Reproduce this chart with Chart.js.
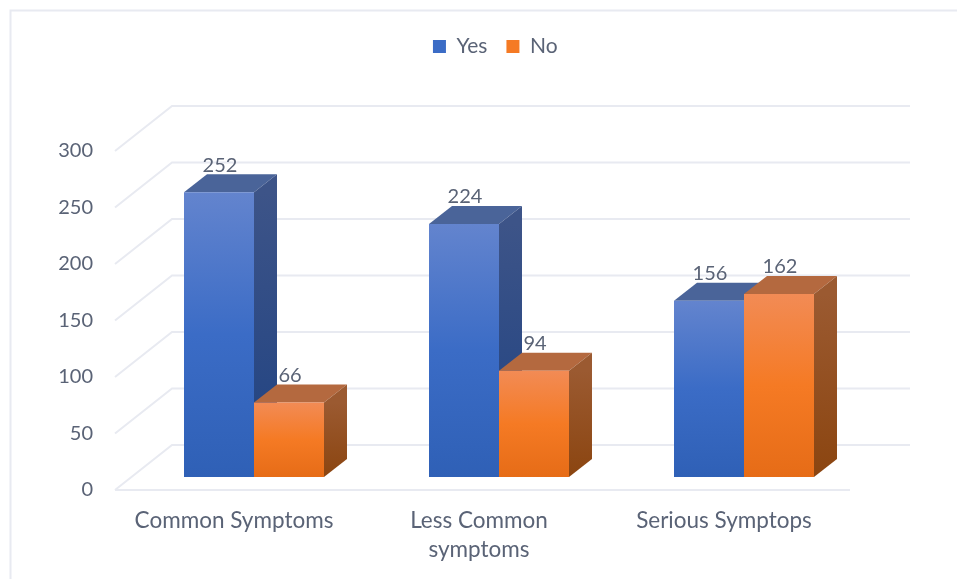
<!DOCTYPE html>
<html>
<head>
<meta charset="utf-8">
<title>Symptoms</title>
<script src="https://cdn.jsdelivr.net/npm/chart.js@4/dist/chart.umd.min.js"></script>
<style>
  html, body { margin: 0; padding: 0; background: #fff; }
  canvas { display: block; }
</style>
</head>
<body>
<canvas id="grafico" width="957" height="579"></canvas>
<script>
const categories = ['Common Symptoms', ['Less Common', 'symptoms'], 'Serious Symptops'];
const yesValues = [252, 224, 156];
const noValues = [66, 94, 162];
const yTicks = [0, 50, 100, 150, 200, 250, 300];

const textColor = '#5a6376';
const gridColor = '#e8eaf1';
const fontName = "Lato, 'Open Sans', sans-serif";

// depth of a bar, and of the floor behind the axis line
const barDepth = { x: 23, y: -18 };
const wallBack = { x: 43.5, y: -32 };
const wallFront = { x: -16.5, y: 13 };

const yesStyle = {
    stops: ['#6384ce', '#3b6cc6', '#2f60b6'],
    top: '#4a6499',
    side: ['#3d5488', '#1f4282']
};
const noStyle = {
    stops: ['#f28b55', '#f57a24', '#e66c17'],
    top: '#b4693f',
    side: ['#9b5a31', '#8b4510']
};

function verticalGradient(ctx, yTop, yBottom, colors) {
    const g = ctx.createLinearGradient(0, yTop, 0, yBottom);
    colors.forEach((c, i) => g.addColorStop(i / (colors.length - 1), c));
    return g;
}

function frontFace(style) {
    return (context) => {
        const chart = context.chart;
        const y = chart.scales.y;
        const top = y.getPixelForValue(context.parsed.y);
        const bottom = y.getPixelForValue(0);
        // the scale has no size yet on the first reset
        if (!Number.isFinite(top) || !Number.isFinite(bottom)) {
            return style.stops[1];
        }
        return verticalGradient(chart.ctx, top, bottom, style.stops);
    };
}

const frame = {
    id: 'frame',
    beforeDraw(chart) {
        const ctx = chart.ctx;
        ctx.save();
        ctx.strokeStyle = gridColor;
        ctx.lineWidth = 2;
        ctx.beginPath();
        ctx.moveTo(10.5, 579);
        ctx.lineTo(10.5, 10.5);
        ctx.lineTo(957, 10.5);
        ctx.stroke();
        ctx.restore();
    }
};

const walls = {
    id: 'walls',
    beforeDatasetsDraw(chart) {
        const ctx = chart.ctx;
        const area = chart.chartArea;
        const y = chart.scales.y;
        ctx.save();
        ctx.strokeStyle = gridColor;
        ctx.lineWidth = 2;
        yTicks.forEach((tick) => {
            const p = y.getPixelForValue(tick);
            ctx.beginPath();
            ctx.moveTo(area.left + wallFront.x, p + wallFront.y);
            ctx.lineTo(area.left + wallFront.x + 57, p + wallBack.y);
            ctx.lineTo(area.right + wallBack.x, p + wallBack.y);
            ctx.stroke();
        });
        const floor = y.getPixelForValue(0) + wallFront.y;
        ctx.beginPath();
        ctx.moveTo(area.left + wallFront.x, floor);
        ctx.lineTo(area.right + wallFront.x, floor);
        ctx.stroke();
        ctx.restore();
    }
};

// top and side of every bar go down first, the library paints the fronts over them
const barFaces = {
    id: 'barFaces',
    beforeDatasetsDraw(chart) {
        const ctx = chart.ctx;
        [yesStyle, noStyle].forEach((style, d) => {
            chart.getDatasetMeta(d).data.forEach((bar) => {
                const { x, y, base, width } = bar.getProps(['x', 'y', 'base', 'width'], true);
                const r = x + width / 2;
                const l = x - width / 2;
                ctx.fillStyle = style.top;
                ctx.beginPath();
                ctx.moveTo(l, y);
                ctx.lineTo(r, y);
                ctx.lineTo(r + barDepth.x, y + barDepth.y);
                ctx.lineTo(l + barDepth.x, y + barDepth.y);
                ctx.closePath();
                ctx.fill();
                ctx.fillStyle = verticalGradient(ctx, y, base, style.side);
                ctx.beginPath();
                ctx.moveTo(r, y);
                ctx.lineTo(r + barDepth.x, y + barDepth.y);
                ctx.lineTo(r + barDepth.x, base + barDepth.y);
                ctx.lineTo(r, base);
                ctx.closePath();
                ctx.fill();
            });
        });
    }
};

const barValues = {
    id: 'barValues',
    afterDatasetsDraw(chart) {
        const ctx = chart.ctx;
        ctx.save();
        ctx.fillStyle = textColor;
        ctx.font = '20px ' + fontName;
        ctx.textAlign = 'center';
        ctx.textBaseline = 'middle';
        chart.data.datasets.forEach((ds, d) => {
            chart.getDatasetMeta(d).data.forEach((bar, i) => {
                ctx.fillText(ds.data[i], bar.x + 1, bar.y - 27);
            });
        });
        ctx.restore();
    }
};

// legend sits off centre above the plot
const legendPlace = {
    id: 'legendPlace',
    afterLayout(chart) {
        const legend = chart.legend;
        legend.left += 62;
        legend.right += 62;
        legend.top = 17;
    }
};

new Chart(document.getElementById('grafico'), {
    type: 'bar',
    data: {
        labels: categories,
        datasets: [
            { label: 'Yes', data: yesValues, backgroundColor: frontFace(yesStyle) },
            { label: 'No', data: noValues, backgroundColor: frontFace(noStyle) }
        ]
    },
    options: {
        responsive: false,
        animation: false,
        barPercentage: 1,
        categoryPercentage: 0.5714,
        layout: { padding: { top: 88, right: 90.5, left: 0, bottom: 0 } },
        plugins: {
            tooltip: { enabled: false },
            legend: {
                position: 'top',
                labels: {
                    boxWidth: 13,
                    boxHeight: 13,
                    padding: 19,
                    color: textColor,
                    font: { size: 21, family: fontName },
                    // the default would reuse the first bar's gradient, out of range up here
                    generateLabels(chart) {
                        const items = Chart.defaults.plugins.legend.labels.generateLabels(chart);
                        items[0].fillStyle = yesStyle.stops[1];
                        items[1].fillStyle = noStyle.stops[1];
                        return items;
                    }
                }
            }
        },
        scales: {
            x: {
                grid: { display: false },
                border: { display: false },
                afterFit(scale) { scale.height = 102; },
                ticks: {
                    color: textColor,
                    font: { size: 22.5, family: fontName, lineHeight: 1.3 },
                    labelOffset: -20,
                    padding: 21,
                    maxRotation: 0,
                    autoSkip: false
                }
            },
            y: {
                min: 0,
                max: 300,
                grid: { display: false },
                border: { display: false },
                afterFit(scale) { scale.width = 131.5; },
                ticks: {
                    stepSize: 50,
                    color: textColor,
                    font: { size: 20, family: fontName },
                    labelOffset: 13,
                    padding: 30.5
                }
            }
        }
    },
    plugins: [frame, walls, barFaces, barValues, legendPlace]
});
</script>
</body>
</html>
